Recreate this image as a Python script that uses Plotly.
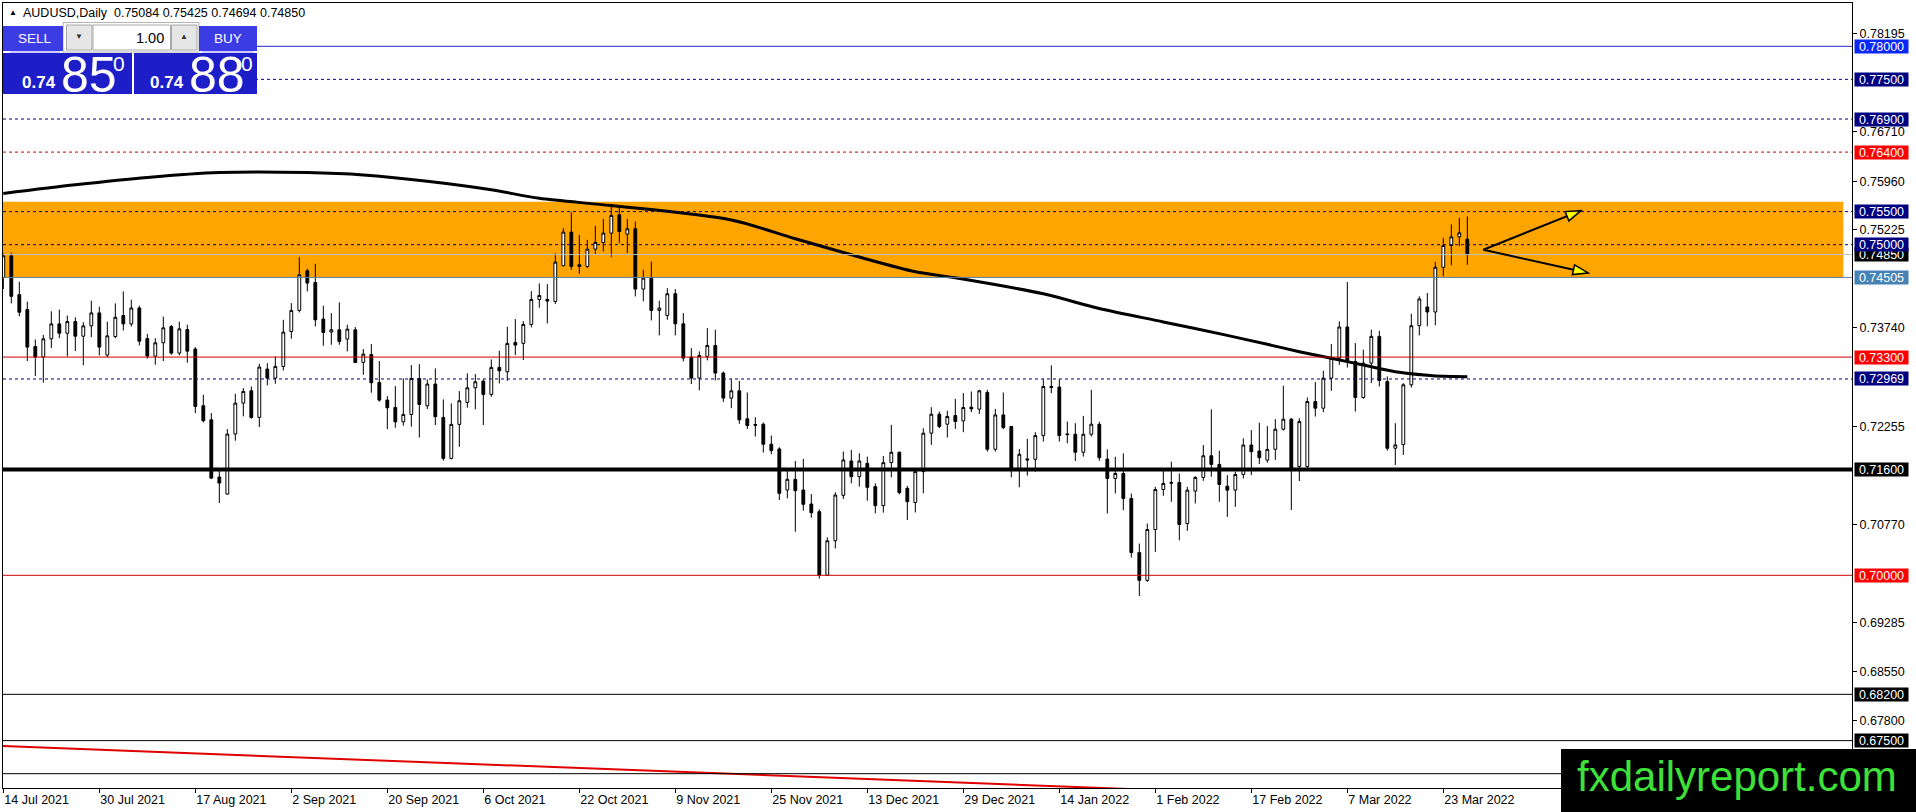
#!/usr/bin/env python
# coding: utf-8

import plotly.graph_objects as go

## AUDUSD daily bars, 14 Jul 2021 .. 28 Mar 2022 (one value per trading day)
opens = [
    0.74505, 0.74831, 0.74244, 0.74018, 0.73461, 0.73300, 0.73576, 0.73802, 0.73661, 0.73837,
    0.73616, 0.73772, 0.73968, 0.73330, 0.73611, 0.73928, 0.73802, 0.74043, 0.73581, 0.73315,
    0.73516, 0.73762, 0.73360, 0.73717, 0.73421, 0.72564, 0.72352, 0.71486, 0.71229, 0.72136,
    0.72604, 0.72791, 0.72388, 0.73119, 0.72982, 0.73159, 0.73688, 0.74006, 0.74605, 0.74429,
    0.73875, 0.73678, 0.73713, 0.73572, 0.73713, 0.73219, 0.73340, 0.72917, 0.72650, 0.72539,
    0.72322, 0.72433, 0.72977, 0.72564, 0.72892, 0.72388, 0.71768, 0.72282, 0.72615, 0.72836,
    0.72937, 0.72736, 0.73144, 0.73078, 0.73522, 0.73507, 0.73794, 0.74172, 0.74172, 0.74142,
    0.74681, 0.75190, 0.74696, 0.74671, 0.74933, 0.75034, 0.75175, 0.75452, 0.75160, 0.75240,
    0.74328, 0.74505, 0.74006, 0.73930, 0.74258, 0.73804, 0.73300, 0.72982, 0.73310, 0.73476,
    0.73058, 0.72679, 0.72790, 0.72366, 0.72280, 0.72285, 0.71982, 0.71911, 0.71290, 0.71452,
    0.71290, 0.71078, 0.70962, 0.70002, 0.70522, 0.71209, 0.71729, 0.71492, 0.71694, 0.71341,
    0.71053, 0.71704, 0.71861, 0.71315, 0.71100, 0.71568, 0.72149, 0.72436, 0.72285, 0.72416,
    0.72335, 0.72542, 0.72512, 0.72765, 0.71906, 0.72426, 0.72250, 0.71618, 0.71760, 0.71755,
    0.72113, 0.72856, 0.72846, 0.72138, 0.72133, 0.71861, 0.72133, 0.72283, 0.71757, 0.71465,
    0.71540, 0.71162, 0.70343, 0.69924, 0.70692, 0.71298, 0.71404, 0.71404, 0.70783, 0.71273,
    0.71480, 0.71808, 0.71677, 0.71348, 0.71288, 0.71525, 0.71970, 0.71879, 0.71742, 0.71906,
    0.72209, 0.72361, 0.71644, 0.71644, 0.72628, 0.72527, 0.72982, 0.73285, 0.73755, 0.73234,
    0.72689, 0.73209, 0.73613, 0.72931, 0.71921, 0.71977, 0.72881, 0.73775, 0.74058, 0.73982,
    0.74658, 0.74987, 0.75118, 0.75084]
highs = [
    0.74866, 0.74881, 0.74440, 0.74138, 0.73566, 0.73636, 0.73993, 0.74018, 0.73928, 0.73902,
    0.73827, 0.74153, 0.74063, 0.73837, 0.74113, 0.74294, 0.74168, 0.74078, 0.73651, 0.73586,
    0.73912, 0.73787, 0.73837, 0.73790, 0.73451, 0.72730, 0.72453, 0.71622, 0.72211, 0.72746,
    0.72831, 0.72856, 0.73199, 0.73209, 0.73310, 0.73864, 0.74116, 0.74812, 0.74636, 0.74711,
    0.74076, 0.73965, 0.74127, 0.73789, 0.73754, 0.73421, 0.73497, 0.73240, 0.72710, 0.72862,
    0.72977, 0.73179, 0.73194, 0.72962, 0.73129, 0.72660, 0.72600, 0.72786, 0.73053, 0.73043,
    0.72962, 0.73265, 0.73396, 0.73759, 0.73875, 0.73844, 0.74298, 0.74414, 0.74404, 0.74872,
    0.75250, 0.75492, 0.75150, 0.75074, 0.75286, 0.75392, 0.75578, 0.75563, 0.75392, 0.75351,
    0.74620, 0.74746, 0.74152, 0.74343, 0.74328, 0.73965, 0.73436, 0.73386, 0.73738, 0.73713,
    0.73083, 0.72967, 0.72941, 0.72765, 0.72391, 0.72310, 0.72113, 0.71937, 0.71593, 0.71729,
    0.71760, 0.71230, 0.70997, 0.70573, 0.71255, 0.71871, 0.71896, 0.71846, 0.71795, 0.71391,
    0.71805, 0.72275, 0.71871, 0.71351, 0.71620, 0.72224, 0.72542, 0.72477, 0.72487, 0.72669,
    0.72755, 0.72780, 0.72805, 0.72805, 0.72517, 0.72765, 0.72260, 0.71911, 0.72063, 0.72164,
    0.72967, 0.73174, 0.72967, 0.72325, 0.72300, 0.72411, 0.72805, 0.72323, 0.71904, 0.71793,
    0.71843, 0.71237, 0.70480, 0.70783, 0.71338, 0.71576, 0.71717, 0.71540, 0.71338, 0.71500,
    0.71970, 0.72510, 0.71884, 0.71515, 0.71566, 0.72071, 0.72197, 0.72308, 0.72257, 0.72361,
    0.72866, 0.72380, 0.72376, 0.72689, 0.72921, 0.73093, 0.73497, 0.73840, 0.74436, 0.73512,
    0.73411, 0.73714, 0.73699, 0.73007, 0.72300, 0.72906, 0.73957, 0.74219, 0.74270, 0.74739,
    0.75103, 0.75305, 0.75406, 0.75425]
lows = [
    0.74329, 0.74113, 0.73917, 0.73240, 0.73014, 0.72913, 0.73436, 0.73586, 0.73310, 0.73390,
    0.73175, 0.73601, 0.73325, 0.73300, 0.73586, 0.73702, 0.73762, 0.73476, 0.73275, 0.73185,
    0.73240, 0.73335, 0.73325, 0.73215, 0.72453, 0.72312, 0.71455, 0.71092, 0.71218, 0.72035,
    0.72403, 0.72368, 0.72242, 0.72872, 0.72897, 0.73098, 0.73577, 0.73975, 0.74293, 0.73764,
    0.73471, 0.73486, 0.73486, 0.73386, 0.73209, 0.73033, 0.72761, 0.72625, 0.72211, 0.72232,
    0.72262, 0.72247, 0.72083, 0.72514, 0.72272, 0.71733, 0.71753, 0.71944, 0.72534, 0.72509,
    0.72272, 0.72700, 0.72902, 0.72942, 0.73330, 0.73255, 0.73749, 0.74046, 0.73809, 0.74101,
    0.74671, 0.74620, 0.74560, 0.74646, 0.74862, 0.74898, 0.74812, 0.75024, 0.74872, 0.74217,
    0.74142, 0.73854, 0.73628, 0.73864, 0.73628, 0.73234, 0.72892, 0.72796, 0.73250, 0.72947,
    0.72620, 0.72527, 0.72290, 0.72214, 0.72098, 0.71856, 0.71830, 0.71139, 0.71164, 0.70659,
    0.70977, 0.70871, 0.69952, 0.69992, 0.70406, 0.71154, 0.71391, 0.71341, 0.71128, 0.70937,
    0.70947, 0.71482, 0.71224, 0.70836, 0.70950, 0.71240, 0.71972, 0.72224, 0.72083, 0.72214,
    0.72164, 0.72467, 0.72441, 0.71871, 0.71871, 0.72209, 0.71482, 0.71330, 0.71507, 0.71568,
    0.72022, 0.72755, 0.72022, 0.71997, 0.71729, 0.71795, 0.72098, 0.71732, 0.70934, 0.71237,
    0.70985, 0.70268, 0.69687, 0.69899, 0.70354, 0.71202, 0.71111, 0.70530, 0.70672, 0.71086,
    0.71429, 0.71490, 0.71111, 0.70884, 0.71035, 0.71465, 0.71515, 0.71682, 0.71702, 0.71745,
    0.72189, 0.70987, 0.71426, 0.71618, 0.72401, 0.72467, 0.72790, 0.73184, 0.73143, 0.72477,
    0.72669, 0.72906, 0.72856, 0.71886, 0.71669, 0.71820, 0.72840, 0.73628, 0.73765, 0.73780,
    0.74522, 0.74689, 0.74977, 0.74694]
closes = [
    0.74831, 0.74219, 0.73978, 0.73451, 0.73300, 0.73576, 0.73802, 0.73661, 0.73837, 0.73616,
    0.73772, 0.73968, 0.73451, 0.73621, 0.73902, 0.73802, 0.74043, 0.73541, 0.73315, 0.73516,
    0.73742, 0.73360, 0.73727, 0.73390, 0.72554, 0.72337, 0.71470, 0.71395, 0.72136, 0.72604,
    0.72781, 0.72388, 0.73149, 0.72982, 0.73159, 0.73678, 0.74006, 0.74545, 0.74419, 0.73864,
    0.73673, 0.73713, 0.73537, 0.73723, 0.73219, 0.73345, 0.72912, 0.72650, 0.72534, 0.72322,
    0.72433, 0.72977, 0.72584, 0.72892, 0.72398, 0.71768, 0.72282, 0.72640, 0.72836, 0.72927,
    0.72736, 0.73144, 0.73093, 0.73507, 0.73481, 0.73794, 0.74172, 0.74232, 0.74147, 0.74736,
    0.75190, 0.74671, 0.74671, 0.74933, 0.75034, 0.75175, 0.75442, 0.75200, 0.75240, 0.74328,
    0.74494, 0.74006, 0.74041, 0.74258, 0.73804, 0.73285, 0.72982, 0.73325, 0.73476, 0.73058,
    0.72680, 0.72790, 0.72351, 0.72265, 0.72270, 0.71982, 0.71886, 0.71240, 0.71452, 0.71280,
    0.71073, 0.70947, 0.70002, 0.70522, 0.71214, 0.71745, 0.71492, 0.71729, 0.71330, 0.71053,
    0.71704, 0.71861, 0.71250, 0.71113, 0.71568, 0.72149, 0.72436, 0.72250, 0.72401, 0.72325,
    0.72537, 0.72517, 0.72790, 0.71906, 0.72426, 0.72234, 0.71618, 0.71830, 0.71745, 0.72113,
    0.72856, 0.72840, 0.72113, 0.72128, 0.71861, 0.72133, 0.72285, 0.71778, 0.71465, 0.71540,
    0.71162, 0.70343, 0.69924, 0.70692, 0.71298, 0.71389, 0.71394, 0.70768, 0.71288, 0.71480,
    0.71808, 0.71677, 0.71374, 0.71288, 0.71525, 0.71970, 0.71869, 0.71778, 0.71904, 0.72209,
    0.72361, 0.71618, 0.72325, 0.72628, 0.72527, 0.72982, 0.73285, 0.73755, 0.73234, 0.72689,
    0.73209, 0.73613, 0.72946, 0.71921, 0.71972, 0.72881, 0.73775, 0.74179, 0.73982, 0.74658,
    0.74987, 0.75118, 0.75179, 0.74850]

## moving average (thick black curve), read at some bars
ma_bar = [0, 9, 18, 27, 38, 45, 53, 61, 67, 76, 91, 99, 107, 114, 119, 130, 137,
          145, 153, 158, 162, 166, 170, 174, 178, 180, 183]
ma_value = [0.75775, 0.75905, 0.76016, 0.76090, 0.76090, 0.76054, 0.75960, 0.75831,
            0.75701, 0.75591, 0.75373, 0.75090, 0.74813, 0.74591, 0.74499, 0.74257,
            0.74035, 0.73832, 0.73628, 0.73493, 0.73382, 0.73282, 0.73180, 0.73079,
            0.73025, 0.73009, 0.73003]

## red trend line at the bottom
trend_bar = [-5, 150]
trend_value = [0.67440, 0.66725]

## horizontal levels
level_prices = [0.78000, 0.77500, 0.76900, 0.76400, 0.75500, 0.74850, 0.75000,
                0.74505, 0.73300, 0.72969, 0.71600, 0.70000, 0.68200, 0.67500, 0.67000]

## orange zone
zone_low, zone_high = 0.74505, 0.75650
zone_end_bar = 230

## the two arrows
arrow_from = (185.0, 0.74924)
arrow_to = [(197.2, 0.75514), (198.1, 0.74572)]

## axis labels
date_labels = ["14 Jul 2021", "30 Jul 2021", "17 Aug 2021", "2 Sep 2021", "20 Sep 2021",
               "6 Oct 2021", "22 Oct 2021", "9 Nov 2021", "25 Nov 2021", "13 Dec 2021",
               "29 Dec 2021", "14 Jan 2022", "1 Feb 2022", "17 Feb 2022", "7 Mar 2022",
               "23 Mar 2022"]
date_label_bars = list(range(0, 181, 12))
price_ticks = [0.78195, 0.76710, 0.75960, 0.75225, 0.73740, 0.72255, 0.70770,
               0.69285, 0.68550, 0.67800]

bid, ask = closes[-1], 0.74880

## ---- geometry of the MT4 window -------------------------------------------
W, H = 1916, 812
ML, MR, MT, MB = 3, 64, 3, 24
PW, PH = W - ML - MR, H - MT - MB
BAR_PX = 8.0
PX_PER_PRICE = 6612.5
x_lo = -0.04
x_hi = x_lo + PW / BAR_PX
y_hi = 0.78 + (46.3 - MT) / PX_PER_PRICE
y_lo = y_hi - PH / PX_PER_PRICE

FONT = "Liberation Sans"


def fx(p):
    return (p - ML) / PW


def fy(p):
    return 1 - (p - MT) / PH


def to_px(b, v):
    return ML + (b - x_lo) * BAR_PX, MT + (y_hi - v) * PX_PER_PRICE


def to_data(X, Y):
    return x_lo + (X - ML) / BAR_PX, y_hi - (Y - MT) / PX_PER_PRICE


fig = go.Figure()

## zone in the background
fig.add_shape(type="rect", xref="x", yref="y", x0=x_lo - 2, x1=zone_end_bar,
              y0=zone_low, y1=zone_high, fillcolor="#FFA500", line_width=0, layer="below")

## candles
idx = list(range(len(opens)))
fig.add_trace(go.Candlestick(
    x=idx, open=opens, high=highs, low=lows, close=closes,
    increasing=dict(line=dict(color="black", width=1), fillcolor="white"),
    decreasing=dict(line=dict(color="black", width=1), fillcolor="black"),
    whiskerwidth=0, showlegend=False, hoverinfo="skip"))

fig.add_trace(go.Scatter(x=ma_bar, y=ma_value, mode="lines", showlegend=False,
                         line=dict(color="black", width=3, shape="spline", smoothing=0.8),
                         hoverinfo="skip"))
fig.add_trace(go.Scatter(x=trend_bar, y=trend_value, mode="lines", showlegend=False,
                         line=dict(color="#e00000", width=2), hoverinfo="skip"))

## level styles: line colour, width, dash, tag background (None = no tag)
NAVY = "#000080"
RED = "#d00000"
level_style = {
    0.78000: ("#2424c8", 1, "solid", "#0a28f5"),
    0.77500: (NAVY, 1, "3px,3px", NAVY),
    0.76900: (NAVY, 1, "3px,3px", NAVY),
    0.76400: (RED, 1, "3px,3px", "#ff0000"),
    0.75500: (NAVY, 1, "3px,3px", NAVY),
    0.74850: ("#c0c0c0", 1, "solid", "black"),
    0.75000: (NAVY, 1, "3px,3px", NAVY),
    0.74505: ("#5f7f9f", 1, "solid", "#4682b4"),
    0.73300: (RED, 1, "solid", "#ff0000"),
    0.72969: (NAVY, 1, "3px,3px", NAVY),
    0.71600: ("black", 4, "solid", "black"),
    0.70000: (RED, 1, "solid", "#ff0000"),
    0.68200: ("black", 1, "solid", "black"),
    0.67500: ("black", 1, "solid", "black"),
    0.67000: ("black", 1, "solid", None),
}

annotations = []
for p in level_prices:
    col, wd, dash, tag = level_style[p]
    fig.add_shape(type="line", xref="paper", yref="y", x0=0, x1=1, y0=p, y1=p,
                  line=dict(color=col, width=wd, dash=dash), layer="above")
    if tag:
        annotations.append(dict(xref="paper", yref="y", x=1, y=p, xanchor="left",
                                yanchor="middle", xshift=2, text="%.5f" % p,
                                showarrow=False, bgcolor=tag, width=53, height=13,
                                borderpad=0, font=dict(color="white", size=12.5,
                                                       family=FONT)))

## arrows with yellow heads
HEAD_LEN, HEAD_HALF = 15, 5
for end in arrow_to:
    fig.add_shape(type="line", xref="x", yref="y", x0=arrow_from[0], y0=arrow_from[1],
                  x1=end[0], y1=end[1], line=dict(color="black", width=2), layer="above")
    sx, sy = to_px(*arrow_from)
    ex, ey = to_px(*end)
    ln = ((ex - sx) ** 2 + (ey - sy) ** 2) ** 0.5
    ux, uy = (ex - sx) / ln, (ey - sy) / ln
    bx, by = ex - HEAD_LEN * ux, ey - HEAD_LEN * uy
    pts = [to_data(ex, ey), to_data(bx - HEAD_HALF * uy, by + HEAD_HALF * ux),
           to_data(bx + HEAD_HALF * uy, by - HEAD_HALF * ux)]
    path = "M %f,%f L %f,%f L %f,%f Z" % (pts[0] + pts[1] + pts[2])
    fig.add_shape(type="path", xref="x", yref="y", path=path, fillcolor="#ffff00",
                  line=dict(color="black", width=1.5), layer="above")


## ---- one-click trading panel ----------------------------------------------
def box(x0, y0, x1, y1, fill, line="rgba(0,0,0,0)", lw=0):
    fig.add_shape(type="rect", xref="paper", yref="paper", x0=fx(x0), x1=fx(x1),
                  y0=fy(y1), y1=fy(y0), fillcolor=fill, line=dict(color=line, width=lw),
                  layer="above")


def label(x, y, text, size, color="white", anchor="center", bold=False):
    if bold:
        text = "<b>%s</b>" % text
    annotations.append(dict(xref="paper", yref="paper", x=fx(x), y=fy(y), text=text,
                            xanchor=anchor, yanchor="middle", showarrow=False,
                            font=dict(size=size, color=color, family=FONT)))


BTN = "#3c3ce4"
PRICE = "#1e1ec8"
box(63, 22.5, 199, 52, "white", "#b4b4b4", 1)
box(3, 26, 63, 51, BTN)
box(199, 26, 257, 51, BTN)
box(66.5, 25, 92, 50, "#e6e6e6", "#a8a8a8", 1)
box(93, 25, 170.5, 50, "white", "#a8a8a8", 1)
box(171.5, 25, 197, 50, "#e6e6e6", "#a8a8a8", 1)
box(3, 53, 132, 94, PRICE)
box(134, 53, 257, 94, PRICE)
fig.add_shape(type="line", xref="paper", yref="paper", x0=fx(10), x1=fx(60),
              y0=fy(52), y1=fy(52), line=dict(color="#9a9af5", width=1), layer="above")
fig.add_shape(type="line", xref="paper", yref="paper", x0=fx(202), x1=fx(254),
              y0=fy(52), y1=fy(52), line=dict(color="#9a9af5", width=1), layer="above")

label(35, 39, "SELL", 13.5)
label(228, 39, "BUY", 13.5)
label(79, 37, "▼", 8, color="#333333")
label(184, 37, "▲", 8, color="#333333")
label(166, 38, "%.2f" % 1.0, 14.5, color="black", anchor="right")

for x0, price in ((20, bid), (148, ask)):
    s = "%.5f" % price
    label(x0, 83, s[:4], 17, anchor="left", bold=True)
    label(x0 + 39, 75, s[4:6], 50, anchor="left")
    label(x0 + 91, 64, s[6], 21, anchor="left")

## header
last = (opens[-1], highs[-1], lows[-1], closes[-1])
label(7, 12.5, "▲", 8, color="black", anchor="left")
label(21, 13, "AUDUSD,Daily  " + " ".join("%.5f" % v for v in last), 12.5,
      color="black", anchor="left")

## watermark
box(1561, 749, W + 2, H + 2, "black")
annotations.append(dict(xref="paper", yref="paper", x=fx(1737), y=fy(776),
                        text="fxdailyreport.com", showarrow=False, xanchor="center",
                        yanchor="middle",
                        font=dict(size=42, color="#3ee13a", family=FONT)))

fig.update_layout(
    width=W, height=H,
    margin=dict(l=ML, r=MR, t=MT, b=MB, pad=0),
    paper_bgcolor="white", plot_bgcolor="white",
    font=dict(family=FONT, size=12.5, color="black"),
    showlegend=False, boxgap=0.5,
    annotations=annotations,
    xaxis=dict(range=[x_lo, x_hi], rangeslider=dict(visible=False), showgrid=False,
               zeroline=False, showline=True, linecolor="black", linewidth=1,
               mirror=True, ticks="outside", ticklen=4, tickcolor="black",
               tickvals=date_label_bars, ticktext=date_labels,
               ticklabelposition="outside right", tickfont=dict(size=12.5)),
    yaxis=dict(range=[y_lo, y_hi], side="right", showgrid=False, zeroline=False,
               showline=True, linecolor="black", linewidth=1, mirror=True,
               ticks="outside", ticklen=4, tickcolor="black",
               tickvals=price_ticks, ticktext=["%.5f" % v for v in price_ticks],
               tickfont=dict(size=12.5)),
)

# the page body has an 8px default margin; drop it so the chart sits at 0,0
fig.write_html("out.html", config={"displayModeBar": False},
               post_script="document.body.style.margin='0';")
